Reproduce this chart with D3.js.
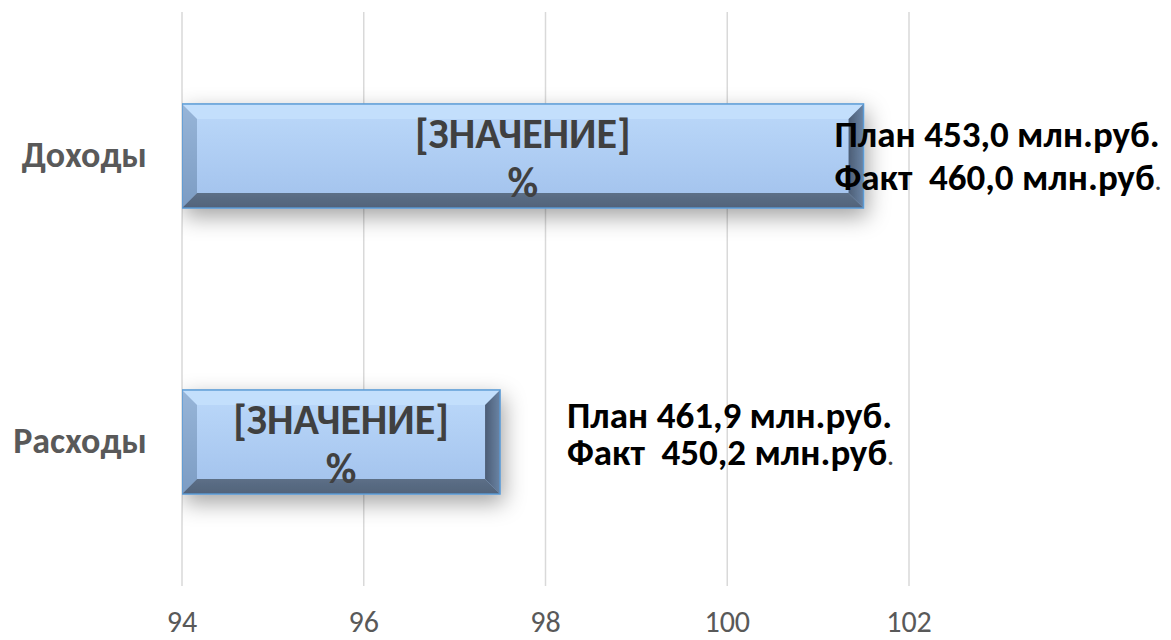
<!DOCTYPE html>
<html>
<head>
<meta charset="utf-8">
<script src="https://cdn.jsdelivr.net/npm/d3@7"></script>
<style>
  html, body { margin: 0; padding: 0; background: #fff; }
  svg { display: block; font-family: Carlito, "Open Sans", sans-serif; }
</style>
</head>
<body>
<svg id="chart" width="1171" height="640"></svg>
<script>
// data
var categories = ["Доходы", "Расходы"];
var percentValues = [101.5, 97.5];
var planValues = ["453,0", "461,9"];
var factValues = ["460,0", "450,2"];
var tickValues = [94, 96, 98, 100, 102];
var valueLabel = ["[ЗНАЧЕНИЕ]", "%"];

var svg = d3.select("#chart"),
    W = +svg.attr("width"),
    H = +svg.attr("height");

var x = d3.scaleLinear().domain([94, 102]).range([182, 909]);
var y = d3.scaleBand().domain(categories).range([13, 585])
    .paddingInner(0.636).paddingOuter(0.318);

// annotation offsets (relative to bar end / band centre), per row
var noteLayout = [{dx: -29, dy1: -9, dy2: 34}, {dx: 67, dy1: -14, dy2: 23}];

var defs = svg.append("defs");

var sh = defs.append("filter").attr("id", "shadow")
    .attr("x", "-20%").attr("y", "-60%").attr("width", "140%").attr("height", "220%");
sh.append("feDropShadow").attr("dx", 3).attr("dy", 8).attr("stdDeviation", 11)
    .attr("flood-color", "#000").attr("flood-opacity", 0.36);

defs.append("clipPath").attr("id", "plotclip")
  .append("rect").attr("x", x.range()[0]).attr("y", 0).attr("width", W).attr("height", H);

function vgrad(id, c1, c2) {
  var g = defs.append("linearGradient").attr("id", id)
      .attr("x1", 0).attr("y1", 0).attr("x2", 0).attr("y2", 1);
  g.append("stop").attr("offset", "0%").attr("stop-color", c1);
  g.append("stop").attr("offset", "100%").attr("stop-color", c2);
}
function hgrad(id, c1, c2) {
  var g = defs.append("linearGradient").attr("id", id)
      .attr("x1", 0).attr("y1", 0).attr("x2", 1).attr("y2", 0);
  g.append("stop").attr("offset", "0%").attr("stop-color", c1);
  g.append("stop").attr("offset", "100%").attr("stop-color", c2);
}
vgrad("face", "#bcd9fa", "#a1c1ec");
vgrad("leftBev", "#97b5d8", "#7c9cc3");
hgrad("rightBev", "#4c5d75", "#6a84a5");
vgrad("bottomBev", "#5c6f87", "#52637a");

// gridlines
svg.append("g").selectAll("line").data(tickValues).enter().append("line")
    .attr("x1", function(d) { return x(d); })
    .attr("x2", function(d) { return x(d); })
    .attr("y1", y.range()[0] - 1)
    .attr("y2", y.range()[1] + 1)
    .attr("stroke", "#d9d9d9")
    .attr("stroke-width", 1.5);

// tick labels
svg.append("g").selectAll("text").data(tickValues).enter().append("text")
    .attr("x", function(d) { return x(d); })
    .attr("y", 632)
    .attr("text-anchor", "middle")
    .style("font-size", "30px")
    .style("fill", "#595959")
    .text(function(d) { return d; });

// category labels
svg.append("g").selectAll("text").data(categories).enter().append("text")
    .attr("x", 147)
    .attr("y", function(d) { return y(d) + y.bandwidth() / 2 + 11; })
    .attr("text-anchor", "end")
    .style("font-size", "36px")
    .style("font-weight", "bold")
    .style("fill", "#595959")
    .text(function(d) { return d; });

var rows = categories.map(function(c, i) {
  return {cat: c, value: percentValues[i], plan: planValues[i], fact: factValues[i], i: i};
});

// bars with bevel
var barLayer = svg.append("g").attr("clip-path", "url(#plotclip)");
var bars = barLayer.selectAll(".bar").data(rows).enter().append("g")
    .attr("class", "bar")
    .attr("filter", "url(#shadow)");

var b = 15;
bars.each(function(d) {
  var g = d3.select(this),
      x0 = x(94), x1 = x(d.value),
      y0 = y(d.cat), y1 = y0 + y.bandwidth();
  function poly(pts, fill) {
    g.append("polygon").attr("points", pts.map(function(p) { return p.join(","); }).join(" "))
      .attr("fill", fill);
  }
  g.append("rect").attr("x", x0).attr("y", y0).attr("width", x1 - x0).attr("height", y1 - y0)
      .attr("fill", "url(#face)");
  poly([[x0, y0], [x1, y0], [x1 - b, y0 + b], [x0 + b, y0 + b]], "#c3dffc");
  poly([[x0, y0], [x0 + b, y0 + b], [x0 + b, y1 - b], [x0, y1]], "url(#leftBev)");
  poly([[x1, y0], [x1, y1], [x1 - b, y1 - b], [x1 - b, y0 + b]], "url(#rightBev)");
  poly([[x0, y1], [x1, y1], [x1 - b, y1 - b], [x0 + b, y1 - b]], "url(#bottomBev)");
  g.append("rect").attr("x", x0).attr("y", y0).attr("width", x1 - x0).attr("height", y1 - y0)
      .attr("fill", "none").attr("stroke", "#5b9bd5").attr("stroke-width", 1.5);
});

// value labels inside bars
var vl = svg.append("g").selectAll("text").data(rows).enter().append("text")
    .attr("text-anchor", "middle")
    .style("font-size", "42px")
    .style("font-weight", "bold")
    .style("fill", "#404040");
vl.append("tspan")
    .attr("x", function(d) { return (x(94) + x(d.value)) / 2; })
    .attr("y", function(d) { return y(d.cat) + y.bandwidth() / 2 - 8; })
    .text(valueLabel[0]);
vl.append("tspan")
    .attr("x", function(d) { return (x(94) + x(d.value)) / 2; })
    .attr("y", function(d) { return y(d.cat) + y.bandwidth() / 2 + 41; })
    .text(valueLabel[1]);

// plan / fact annotations
var notes = svg.append("g").selectAll("text").data(rows).enter().append("text")
    .style("font-size", "37px")
    .style("font-weight", "bold")
    .style("fill", "#000")
    .style("white-space", "pre");
notes.append("tspan")
    .attr("x", function(d) { return x(d.value) + noteLayout[d.i].dx; })
    .attr("y", function(d) { return y(d.cat) + y.bandwidth() / 2 + noteLayout[d.i].dy1; })
    .text(function(d) { return "План " + d.plan + " млн.руб."; });
notes.append("tspan")
    .attr("x", function(d) { return x(d.value) + noteLayout[d.i].dx; })
    .attr("y", function(d) { return y(d.cat) + y.bandwidth() / 2 + noteLayout[d.i].dy2; })
    .text(function(d) { return "Факт  " + d.fact + " млн.руб"; });
notes.append("tspan")
    .style("font-weight", "normal")
    .style("font-size", "28px")
    .style("fill", "#404040")
    .text(".");
</script>
</body>
</html>
